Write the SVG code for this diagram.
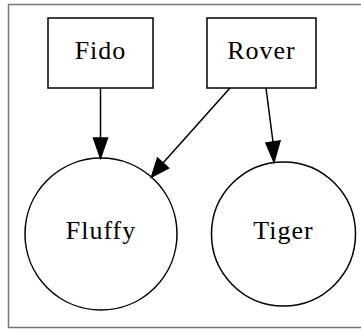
<svg xmlns="http://www.w3.org/2000/svg" width="361" height="329" viewBox="0 0 361 329">
<style>
.node{fill:none;stroke:#000;stroke-width:1.5}
.lbl{font-family:"Liberation Serif","Times New Roman",serif;font-size:26px;letter-spacing:1px;text-anchor:middle;fill:#000}
.edge{stroke:#000;stroke-width:1.5;fill:none}
.head{fill:#000;stroke:#000;stroke-width:1.5}
</style>
<rect x="0" y="0" width="361" height="329" fill="#fff"/>
<path d="M8.5 328 L8.5 4.5 L362 4.5 M8.5 327.5 L362 327.5" fill="none" stroke="#777" stroke-width="1.5"/>
<g id="connectors">
<path class="edge" d="M100.5 88 L100.5 138"/>
<polygon class="head" points="93.5,138 107.5,138 100.5,158"/>
<path class="edge" d="M230 88 L163 163"/>
<polygon class="head" points="157.5,158 168.5,168 151.5,177"/>
<path class="edge" d="M266 88 L273 142"/>
<polygon class="head" points="266,143 280,141 274,162"/>
</g>
<g id="Fido">
<rect class="node" x="48" y="18" width="105" height="70"/>
<text class="lbl" x="100.5" y="59">Fido</text>
</g>
<g id="Rover">
<rect class="node" x="207" y="18" width="109" height="70"/>
<text class="lbl" x="261.5" y="59">Rover</text>
</g>
<g id="Fluffy">
<circle class="node" cx="101" cy="234" r="76"/>
<text class="lbl" x="101" y="239">Fluffy</text>
</g>
<g id="Tiger">
<circle class="node" cx="283.5" cy="234" r="72"/>
<text class="lbl" x="283.5" y="239">Tiger</text>
</g>
</svg>
